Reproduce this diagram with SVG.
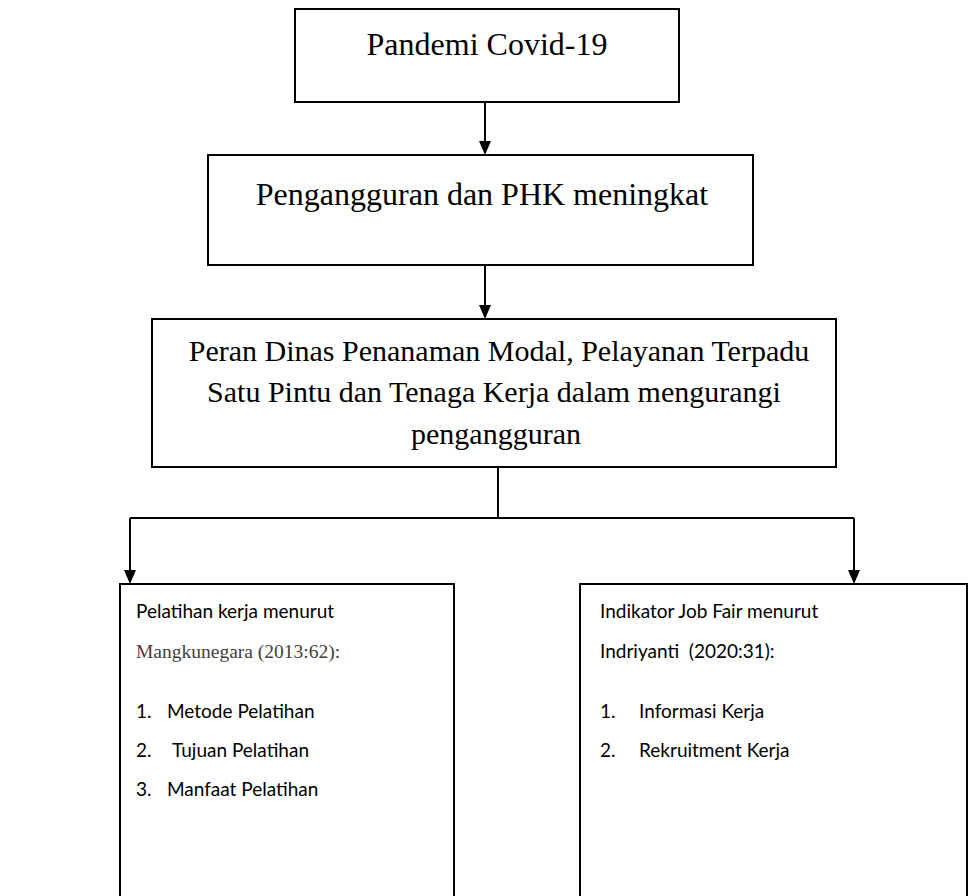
<svg xmlns="http://www.w3.org/2000/svg" width="977" height="896" viewBox="0 0 977 896">
<style>
  .box { fill: #fff; stroke: #000; stroke-width: 2; }
  .serif { font-family: "Liberation Serif", "Times New Roman", serif; font-size: 32px; fill: #000; }
  .serif30 { font-family: "Liberation Serif", "Times New Roman", serif; font-size: 30px; fill: #000; }
  .sans { font-family: Lato, "Noto Sans", sans-serif; font-size: 19px; fill: #000; }
  .ref { font-family: "Liberation Serif", "Times New Roman", serif; font-size: 19.5px; fill: #404040; }
  .line { fill: none; stroke: #000; stroke-width: 2; }
  .head { fill: #000; }
</style>
<rect width="977" height="896" fill="#fff"/>
<g id="connectors">
  <path class="line" d="M485,102 V141"/>
  <path class="head" d="M479,141 L491,141 L485,155 Z"/>
  <path class="line" d="M485,265 V305"/>
  <path class="head" d="M479,305 L491,305 L485,319 Z"/>
  <path class="line" d="M498,467 V518 M130,518 H854 M130,518 V570 M854,518 V570"/>
  <path class="head" d="M124,570 L136,570 L130,584 Z"/>
  <path class="head" d="M848,570 L860,570 L854,584 Z"/>
</g>
<g id="node-pandemi">
  <rect class="box" x="295" y="9" width="384" height="93"/>
  <text class="serif" x="487" y="55" text-anchor="middle">Pandemi Covid-19</text>
</g>
<g id="node-pengangguran">
  <rect class="box" x="208" y="155" width="545" height="110"/>
  <text class="serif" x="482" y="205" text-anchor="middle">Pengangguran dan PHK meningkat</text>
</g>
<g id="node-peran">
  <rect class="box" x="152" y="319" width="684" height="148"/>
  <text class="serif30" x="499" y="361" text-anchor="middle">Peran Dinas Penanaman Modal, Pelayanan Terpadu</text>
  <text class="serif30" x="494" y="402" text-anchor="middle">Satu Pintu dan Tenaga Kerja dalam mengurangi</text>
  <text class="serif30" x="496" y="444" text-anchor="middle">pengangguran</text>
</g>
<g id="node-pelatihan">
  <rect class="box" x="120" y="584" width="334" height="330"/>
  <text class="sans" x="136" y="618">Pelatihan kerja menurut</text>
  <text class="ref" x="136" y="658">Mangkunegara (2013:62):</text>
  <text class="sans" x="136" y="718">1.</text><text class="sans" x="167" y="718">Metode Pelatihan</text>
  <text class="sans" x="136" y="757">2.</text><text class="sans" x="172" y="757">Tujuan Pelatihan</text>
  <text class="sans" x="136" y="796">3.</text><text class="sans" x="167" y="796">Manfaat Pelatihan</text>
</g>
<g id="node-jobfair">
  <rect class="box" x="580" y="584" width="387" height="330"/>
  <text class="sans" x="600" y="618">Indikator Job Fair menurut</text>
  <text class="sans" x="600" y="658" xml:space="preserve">Indriyanti  (2020:31):</text>
  <text class="sans" x="600" y="718">1.</text><text class="sans" x="639" y="718">Informasi Kerja</text>
  <text class="sans" x="600" y="757">2.</text><text class="sans" x="639" y="757">Rekruitment Kerja</text>
</g>
</svg>
